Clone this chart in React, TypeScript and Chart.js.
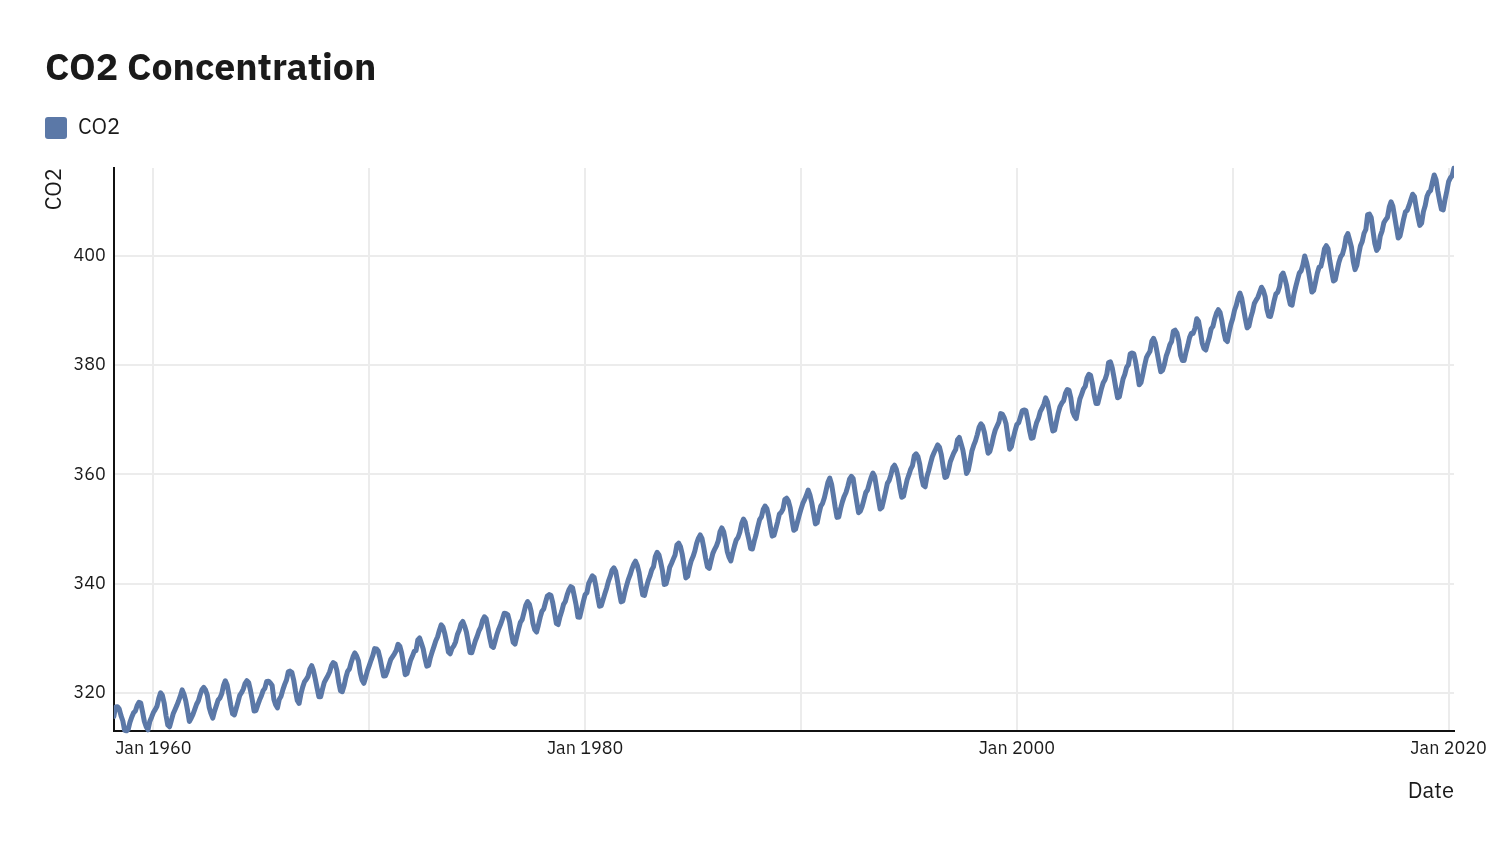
import React, { useEffect, useRef } from 'react';
import { Chart, registerables } from 'chart.js';

Chart.register(...registerables);

// Monthly CO2 (ppm), starting March 1958
const START_YEAR = 1958;
const START_MONTH = 3;

const co2_1950s = [
  315.71, 317.45, 317.50, 317.10, 315.86, 314.93, 313.20, 313.05, 313.33, 314.67,
  315.62, 316.38, 316.71, 317.72, 318.29, 318.15, 316.54, 314.80, 313.84, 313.26, 314.80, 315.58,
];

const co2_1960s = [
  316.43, 316.97, 317.58, 319.02, 320.03, 319.59, 318.18, 315.91, 314.16, 313.83, 315.00, 316.19,
  316.93, 317.70, 318.54, 319.48, 320.58, 319.77, 318.57, 316.79, 314.80, 315.38, 316.10, 317.01,
  317.94, 318.56, 319.68, 320.63, 321.01, 320.55, 319.58, 317.40, 316.26, 315.42, 316.69, 317.69,
  318.74, 319.08, 319.86, 321.39, 322.25, 321.47, 319.74, 317.77, 316.21, 315.99, 317.12, 318.31,
  319.57, 320.07, 320.73, 321.77, 322.25, 321.89, 320.44, 318.70, 316.70, 316.79, 317.79, 318.71,
  319.44, 320.44, 320.89, 322.13, 322.16, 321.87, 321.39, 318.81, 317.81, 317.30, 318.87, 319.42,
  320.62, 321.59, 322.39, 323.87, 324.01, 323.75, 322.39, 320.37, 318.64, 318.10, 319.79, 321.08,
  322.07, 322.50, 323.04, 324.42, 325.00, 324.09, 322.55, 320.92, 319.31, 319.31, 320.72, 321.96,
  322.57, 323.15, 323.89, 325.02, 325.57, 325.36, 324.14, 322.03, 320.41, 320.25, 321.31, 322.84,
  324.00, 324.42, 325.64, 326.66, 327.34, 326.76, 325.88, 323.67, 322.38, 321.78, 322.85, 324.11,
];

const co2_1970s = [
  325.03, 325.99, 326.87, 328.13, 328.07, 327.66, 326.35, 324.69, 323.10, 323.16, 323.98, 325.13,
  326.17, 326.68, 327.18, 327.78, 328.92, 328.57, 327.34, 325.46, 323.36, 323.57, 324.80, 326.01,
  326.77, 327.63, 327.75, 329.72, 330.07, 329.09, 328.05, 326.32, 324.93, 325.06, 326.50, 327.55,
  328.54, 329.56, 330.30, 331.50, 332.48, 332.07, 330.87, 329.31, 327.51, 327.18, 328.16, 328.64,
  329.35, 330.71, 331.48, 332.65, 333.09, 332.25, 331.18, 329.40, 327.43, 327.37, 328.46, 329.57,
  330.40, 331.40, 332.04, 333.31, 333.96, 333.59, 331.91, 330.06, 328.56, 328.34, 329.49, 330.76,
  331.75, 332.56, 333.50, 334.58, 334.57, 334.34, 333.05, 330.94, 329.30, 328.94, 330.31, 331.68,
  332.93, 333.42, 334.70, 336.07, 336.74, 336.27, 334.93, 332.75, 331.58, 331.16, 332.40, 333.85,
  334.97, 335.39, 336.64, 337.76, 338.01, 337.89, 336.54, 334.68, 332.76, 332.54, 333.92, 334.95,
  336.23, 336.76, 337.96, 338.89, 339.47, 339.29, 337.73, 336.09, 333.91, 333.86, 335.29, 336.73,
];

const co2_1980s = [
  338.01, 338.36, 340.08, 340.77, 341.46, 341.17, 339.56, 337.60, 335.88, 336.01, 337.10, 338.21,
  339.23, 340.47, 341.38, 342.51, 342.91, 342.25, 340.49, 338.43, 336.69, 336.86, 338.36, 339.61,
  340.75, 341.61, 342.70, 343.56, 344.13, 343.35, 342.06, 339.82, 337.97, 337.86, 339.26, 340.49,
  341.38, 342.52, 343.10, 344.94, 345.75, 345.32, 343.99, 342.39, 339.86, 339.99, 341.16, 342.99,
  343.70, 344.51, 345.28, 347.08, 347.43, 346.79, 345.40, 343.28, 341.07, 341.35, 342.98, 344.22,
  344.97, 345.99, 347.42, 348.35, 348.93, 348.25, 346.56, 344.67, 343.09, 342.80, 344.24, 345.56,
  346.30, 346.95, 347.85, 349.55, 350.21, 349.55, 347.94, 345.91, 344.86, 344.17, 345.66, 346.90,
  348.02, 348.47, 349.42, 350.99, 351.84, 351.25, 349.52, 348.10, 346.44, 346.36, 347.81, 348.96,
  350.43, 351.72, 352.22, 353.59, 354.22, 353.79, 352.39, 350.44, 348.72, 348.88, 350.07, 351.34,
  352.76, 353.07, 353.68, 355.42, 355.67, 355.12, 353.90, 351.67, 349.80, 349.99, 351.30, 352.53,
];

const co2_1990s = [
  353.66, 354.70, 355.39, 356.20, 357.16, 356.22, 354.82, 352.91, 350.96, 351.18, 352.83, 354.21,
  354.72, 355.75, 357.16, 358.60, 359.34, 358.24, 356.17, 354.02, 352.15, 352.21, 353.75, 354.99,
  355.99, 356.72, 357.81, 359.15, 359.66, 359.25, 357.02, 355.00, 353.01, 353.31, 354.16, 355.40,
  356.70, 357.17, 358.38, 359.46, 360.28, 359.60, 357.57, 355.52, 353.69, 353.99, 355.34, 356.80,
  358.37, 358.91, 359.97, 361.26, 361.69, 360.94, 359.55, 357.49, 355.84, 356.00, 357.58, 359.04,
  359.97, 361.00, 361.64, 363.45, 363.79, 363.26, 361.90, 359.46, 358.06, 357.75, 359.56, 360.70,
  362.05, 363.25, 364.03, 364.72, 365.41, 364.97, 363.65, 361.49, 359.46, 359.60, 360.76, 362.33,
  363.18, 364.00, 364.57, 366.35, 366.79, 365.62, 364.47, 362.51, 360.19, 360.77, 362.43, 364.28,
  365.32, 366.15, 367.31, 368.61, 369.29, 368.87, 367.64, 365.77, 363.90, 364.23, 365.46, 366.97,
  368.15, 368.87, 369.59, 371.14, 371.00, 370.35, 369.27, 366.94, 364.63, 365.12, 366.67, 368.01,
];

const co2_2000s = [
  369.14, 369.46, 370.52, 371.66, 371.82, 371.70, 370.12, 368.12, 366.62, 366.73, 368.29, 369.53,
  370.28, 371.50, 372.12, 372.87, 374.02, 373.30, 371.62, 369.55, 367.96, 368.09, 369.68, 371.24,
  372.44, 373.08, 373.52, 374.85, 375.55, 375.40, 374.02, 371.49, 370.71, 370.25, 372.08, 373.78,
  374.68, 375.62, 376.11, 377.65, 378.35, 378.13, 376.62, 374.50, 372.99, 373.00, 374.35, 375.70,
  376.79, 377.36, 378.39, 380.50, 380.62, 379.55, 377.76, 375.83, 374.05, 374.22, 375.84, 377.44,
  378.34, 379.61, 380.08, 382.05, 382.24, 382.08, 380.67, 378.67, 376.42, 376.80, 378.31, 379.96,
  381.37, 382.02, 382.56, 384.37, 384.92, 384.03, 382.28, 380.48, 378.81, 379.06, 380.14, 381.66,
  382.58, 383.71, 384.34, 386.23, 386.41, 385.87, 384.45, 381.84, 380.86, 380.86, 382.36, 383.61,
  385.07, 385.84, 385.83, 386.77, 388.51, 388.05, 386.25, 384.08, 383.09, 382.78, 384.01, 385.11,
  386.65, 387.12, 388.52, 389.57, 390.16, 389.62, 388.07, 386.08, 384.65, 384.33, 386.05, 387.49,
];

const co2_2010s = [
  388.55, 390.07, 391.01, 392.38, 393.22, 392.24, 390.33, 388.52, 386.84, 387.16, 388.67, 389.81,
  391.30, 391.92, 392.45, 393.37, 394.28, 393.69, 392.59, 390.21, 389.00, 388.93, 390.24, 391.80,
  393.07, 393.35, 394.36, 396.43, 396.87, 395.88, 394.52, 392.54, 391.13, 391.01, 392.95, 394.34,
  395.61, 396.85, 397.26, 398.35, 399.98, 398.87, 397.37, 395.41, 393.39, 393.70, 395.19, 396.82,
  397.93, 398.10, 399.47, 401.33, 401.88, 401.31, 399.07, 397.21, 395.40, 395.65, 397.23, 398.79,
  399.85, 400.31, 401.51, 403.45, 404.10, 402.88, 401.61, 399.00, 397.50, 398.28, 400.24, 401.89,
  402.65, 404.16, 404.85, 407.57, 407.66, 407.00, 404.50, 402.24, 401.01, 401.50, 403.64, 404.55,
  406.07, 406.64, 407.06, 408.95, 409.91, 409.12, 407.20, 405.24, 403.27, 403.64, 405.17, 406.75,
  408.05, 408.34, 409.25, 410.30, 411.30, 410.88, 408.90, 407.10, 405.59, 405.99, 408.12, 409.23,
  410.92, 411.66, 412.00, 413.52, 414.83, 413.96, 411.85, 410.08, 408.55, 408.43, 410.29, 411.85,
];

const co2_2020s = [413.6, 414.3, 414.7, 416.1];

const xTickYears = [1960, 1970, 1980, 1990, 2000, 2010, 2020];
const xLabeledYears = [1960, 1980, 2000, 2020];
const yTickValues = [320, 340, 360, 380, 400];

const LINE_COLOR = '#5b78a7';
const FONT = "'IBM Plex Sans', 'Noto Sans', sans-serif";
const LEGEND_EXTRA = 19;

const legendSpacing = {
  id: 'legendSpacing',
  beforeInit(chart: any) {
    const legend = chart.legend;
    if (!legend) return;
    const origFit = legend.fit;
    legend.fit = function () {
      origFit.call(this);
      this.height += LEGEND_EXTRA;
    };
  },
};

export default function App() {
  const canvasRef = useRef<HTMLCanvasElement | null>(null);

  useEffect(() => {
    const values = [
      ...co2_1950s, ...co2_1960s, ...co2_1970s, ...co2_1980s,
      ...co2_1990s, ...co2_2000s, ...co2_2010s, ...co2_2020s,
    ];
    const points = values.map((v, i) => ({
      x: START_YEAR + (START_MONTH - 1 + i) / 12,
      y: v,
    }));
    const xMin = points[0].x;
    const xMax = points[points.length - 1].x;

    const chart = new Chart(canvasRef.current as HTMLCanvasElement, {
      type: 'line',
      data: {
        datasets: [
          {
            label: 'CO2',
            data: points,
            borderColor: LINE_COLOR,
            backgroundColor: LINE_COLOR,
            borderWidth: 5,
            pointRadius: 0,
            tension: 0,
            borderJoinStyle: 'round',
            borderCapStyle: 'round',
          },
        ],
      },
      plugins: [legendSpacing],
      options: {
        animation: false,
        responsive: false,
        layout: { padding: { left: 45, right: 44, top: 0, bottom: 37 } },
        plugins: {
          title: {
            display: true,
            text: 'CO2 Concentration',
            align: 'start',
            color: '#1a1a1a',
            font: { family: FONT, size: 37.5, weight: 'bold' },
            padding: { top: 47, bottom: 25 },
          },
          legend: {
            display: true,
            align: 'start',
            labels: {
              boxWidth: 22,
              boxHeight: 22,
              useBorderRadius: true,
              borderRadius: 3,
              color: '#1a1a1a',
              font: { family: FONT, size: 22 },
              padding: 0,
              generateLabels: (c: any) =>
                (Chart.defaults.plugins.legend.labels as any)
                  .generateLabels(c)
                  .map((l: any) => ({ ...l, lineWidth: 0, fillStyle: LINE_COLOR, strokeStyle: LINE_COLOR })),
            },
          },
          tooltip: { enabled: false },
        },
        scales: {
          x: {
            type: 'linear',
            min: xMin,
            max: xMax,
            afterBuildTicks: (scale: any) => {
              scale.ticks = xTickYears.map((v) => ({ value: v }));
            },
            ticks: {
              autoSkip: false,
              maxRotation: 0,
              color: '#1a1a1a',
              font: { family: FONT, size: 18 },
              padding: 7,
              callback: (v: any) => (xLabeledYears.includes(Number(v)) ? `Jan ${v}` : ''),
            },
            grid: { color: '#ececec', lineWidth: 2, drawTicks: false },
            border: { color: '#111', width: 2 },
            title: {
              display: true,
              text: 'Date',
              align: 'end',
              color: '#1a1a1a',
              font: { family: FONT, size: 22 },
              padding: { top: 12, bottom: 0 },
            },
          },
          y: {
            type: 'linear',
            bounds: 'data',
            afterBuildTicks: (scale: any) => {
              scale.ticks = yTickValues.map((v) => ({ value: v }));
            },
            ticks: {
              color: '#1a1a1a',
              font: { family: FONT, size: 18 },
              padding: 8,
            },
            grid: { color: '#ececec', lineWidth: 2, drawTicks: false },
            border: { color: '#111', width: 2 },
            title: {
              display: true,
              text: 'CO2',
              align: 'end',
              color: '#1a1a1a',
              font: { family: FONT, size: 22 },
              padding: { top: -4, bottom: -2 },
            },
          },
        },
      },
    } as any);

    return () => chart.destroy();
  }, []);

  return (
    <div style={{ position: 'absolute', left: 0, top: 0, width: 1498, height: 842, background: '#fff' }}>
      <canvas ref={canvasRef} width={1498} height={842} style={{ width: 1498, height: 842 }} />
    </div>
  );
}
